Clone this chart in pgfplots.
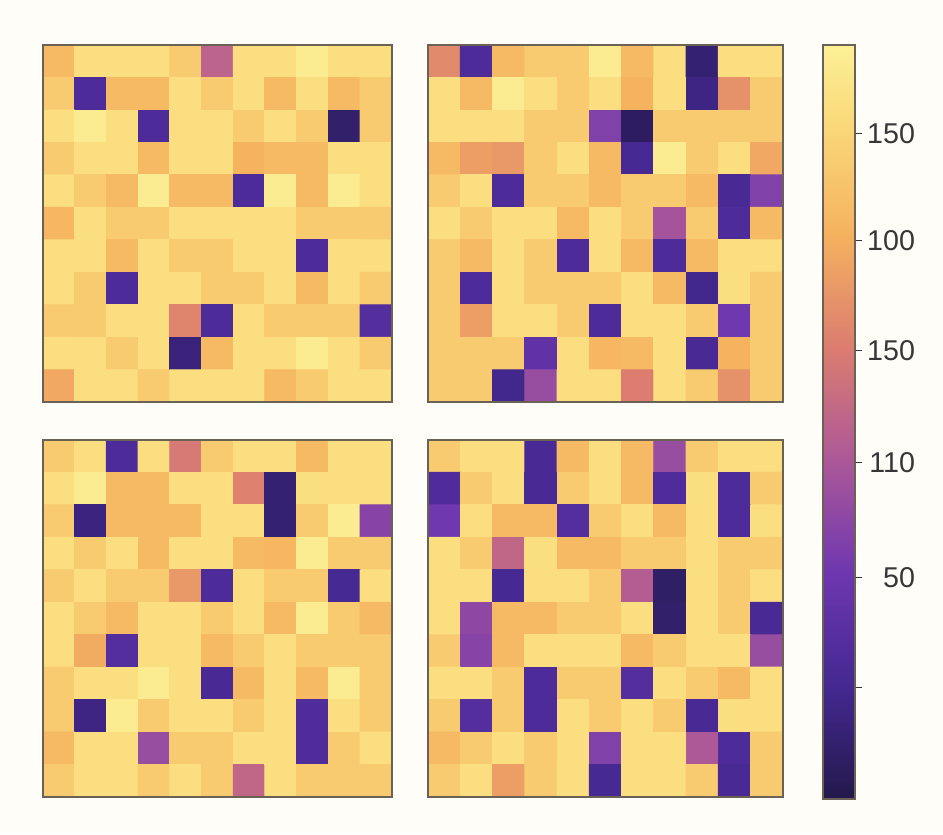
\documentclass[border=0pt]{standalone}
\usepackage{fontspec}
\setmainfont{Liberation Sans}
\usepackage{pgfplots}
\usepackage{pgfplotstable}
\pgfplotsset{compat=1.18}
\definecolor{bgcream}{RGB}{254,253,248}
\definecolor{framecol}{RGB}{105,98,85}
\definecolor{labelcol}{RGB}{55,55,55}

% one value per cell, 11 cells per grid row, top row first
\pgfplotstableread[header=false, row sep=\\]{
140\\165\\165\\165\\152\\90\\165\\165\\177\\165\\165\\
152\\33\\140\\140\\165\\152\\165\\140\\165\\140\\152\\
165\\177\\165\\33\\165\\165\\152\\165\\152\\12\\152\\
152\\165\\165\\140\\165\\165\\135\\140\\140\\165\\165\\
165\\152\\140\\177\\140\\140\\33\\177\\140\\177\\165\\
138\\165\\152\\152\\165\\165\\165\\165\\152\\152\\152\\
165\\165\\140\\165\\152\\152\\165\\165\\33\\165\\165\\
165\\152\\33\\165\\165\\152\\152\\165\\140\\165\\152\\
152\\152\\165\\165\\112\\33\\165\\152\\152\\152\\38\\
165\\165\\152\\165\\18\\140\\165\\165\\177\\165\\152\\
130\\165\\165\\152\\165\\165\\165\\140\\152\\165\\165\\
}\panelA

\pgfplotstableread[header=false, row sep=\\]{
115\\33\\140\\152\\152\\177\\140\\165\\15\\165\\165\\
165\\140\\177\\165\\152\\165\\135\\165\\22\\118\\152\\
165\\165\\165\\152\\152\\62\\8\\152\\152\\152\\152\\
140\\125\\122\\152\\165\\140\\28\\177\\152\\165\\130\\
152\\165\\33\\152\\152\\140\\152\\152\\140\\30\\62\\
165\\152\\165\\165\\140\\165\\152\\78\\152\\33\\140\\
152\\140\\165\\152\\33\\165\\140\\33\\140\\165\\165\\
152\\33\\165\\152\\152\\152\\165\\140\\25\\165\\152\\
152\\125\\165\\165\\152\\33\\165\\165\\152\\55\\152\\
152\\152\\152\\45\\165\\138\\140\\165\\30\\135\\152\\
152\\152\\25\\72\\165\\165\\108\\165\\152\\118\\152\\
}\panelB

\pgfplotstableread[header=false, row sep=\\]{
152\\165\\33\\165\\105\\152\\165\\165\\140\\165\\165\\
165\\177\\140\\140\\165\\165\\110\\15\\165\\165\\165\\
152\\20\\140\\140\\140\\165\\165\\15\\152\\177\\65\\
165\\152\\165\\140\\165\\165\\140\\138\\177\\152\\152\\
152\\165\\152\\152\\122\\33\\165\\152\\152\\28\\165\\
165\\152\\140\\165\\165\\152\\165\\140\\177\\152\\140\\
165\\132\\38\\165\\165\\140\\152\\165\\152\\152\\152\\
152\\165\\165\\177\\165\\30\\140\\165\\140\\177\\152\\
152\\22\\177\\152\\165\\165\\152\\165\\35\\165\\152\\
140\\165\\165\\72\\152\\152\\165\\165\\35\\152\\165\\
152\\165\\165\\152\\165\\152\\92\\165\\152\\152\\152\\
}\panelC

\pgfplotstableread[header=false, row sep=\\]{
152\\165\\165\\30\\140\\165\\140\\72\\152\\165\\165\\
35\\152\\165\\30\\152\\165\\140\\35\\165\\33\\152\\
55\\165\\140\\140\\38\\152\\165\\140\\165\\33\\165\\
165\\152\\92\\165\\140\\140\\152\\152\\165\\152\\152\\
165\\165\\28\\165\\165\\152\\85\\10\\165\\152\\165\\
165\\68\\140\\140\\152\\152\\165\\12\\165\\152\\30\\
152\\65\\140\\165\\165\\165\\140\\152\\165\\165\\72\\
165\\165\\152\\33\\152\\152\\38\\165\\152\\140\\165\\
152\\38\\152\\33\\165\\152\\165\\152\\30\\165\\165\\
140\\152\\165\\152\\165\\62\\165\\165\\82\\33\\152\\
152\\165\\125\\152\\165\\28\\165\\165\\152\\30\\152\\
}\panelD

\pgfplotsset{
  colormap={refmap}{
    rgb255(0cm)=(35,25,75) rgb255(1.5cm)=(68,40,145) rgb255(3cm)=(110,55,175)
    rgb255(4.5cm)=(172,88,152) rgb255(6cm)=(220,125,112) rgb255(7.5cm)=(245,178,95)
    rgb255(9cm)=(250,218,122) rgb255(10cm)=(252,240,150)
  },
  panel/.style={
    anchor=south west, scale only axis, height=4.82cm,
    xmin=-0.5, xmax=10.5, ymin=-0.5, ymax=10.5, y dir=reverse,
    xtick=\empty, ytick=\empty, axis on top,
    axis line style={framecol, line width=0.6pt},
    colormap name=refmap, point meta min=0, point meta max=180,
  },
  cells/.style={matrix plot*, mesh/cols=11, point meta=explicit},
}
\newcommand{\cellsof}[1]{%
  \addplot[cells] table[x index=0, y index=0, meta index=0,
    x expr={mod(\coordindex,11)}, y expr={floor(\coordindex/11)}] {#1};}

\begin{document}
\begin{tikzpicture}
\fill[bgcream] (0,0) rectangle (12.73,11.26);

\begin{axis}[panel, at={(0.58cm,5.83cm)}, width=4.71cm]
\cellsof{\panelA}
\end{axis}

\begin{axis}[panel, at={(5.78cm,5.83cm)}, width=4.79cm,
  colorbar,
  colorbar style={
    at={(parent axis.north east)}, anchor=north west, xshift=0.24cm,
    width=0.43cm, height=10.18cm,
    axis line style={framecol, line width=0.6pt},
    ytick={26.7,53,80.4,107.2,133.4,159},
    yticklabels={,50,110,150,100,150},
    yticklabel pos=right, ytick pos=right,
    tick align=outside, major tick length=0.1cm,
    tick style={labelcol, line width=0.5pt},
    yticklabel style={font=\fontsize{11}{13}\selectfont, text=labelcol,
      text width=1.9em, align=right, xshift=-0.08cm},
  }]
\cellsof{\panelB}
\end{axis}

\begin{axis}[panel, at={(0.58cm,0.50cm)}, width=4.71cm]
\cellsof{\panelC}
\end{axis}

\begin{axis}[panel, at={(5.78cm,0.50cm)}, width=4.79cm]
\cellsof{\panelD}
\end{axis}
\end{tikzpicture}
\end{document}
